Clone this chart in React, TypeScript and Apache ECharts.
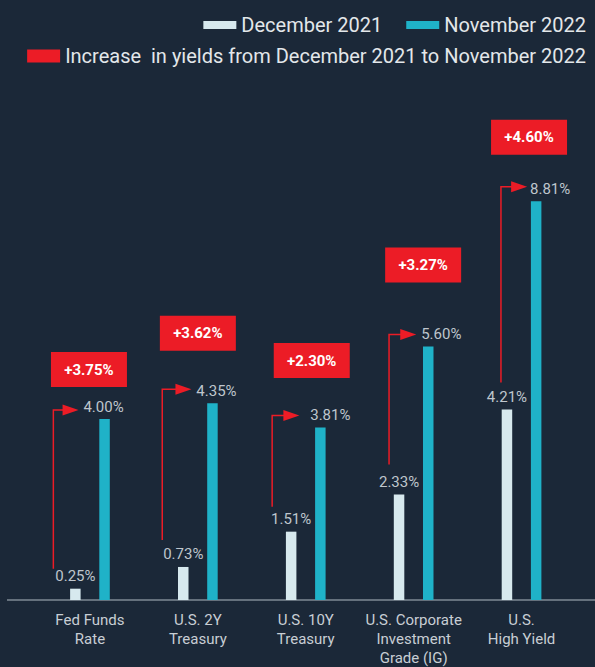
import React, { useEffect, useRef } from 'react';
import * as echarts from 'echarts';

const categories = [
  'Fed Funds\nRate',
  'U.S. 2Y\nTreasury',
  'U.S. 10Y\nTreasury',
  'U.S. Corporate\nInvestment\nGrade (IG)',
  'U.S.\nHigh Yield',
];
const dec2021 = [0.25, 0.73, 1.51, 2.33, 4.21];
const nov2022 = [4.0, 4.35, 3.81, 5.6, 8.81];
const increases = ['+3.75%', '+3.62%', '+2.30%', '+3.27%', '+4.60%'];

const SERIES_DEC = 'December 2021';
const SERIES_NOV = 'November 2022';
const SERIES_INC = 'Increase  in yields from December 2021 to November 2022';

// layout (pixel offsets)
const HALF = 14.6;
const arrowXFromDec = [-22, -21, -19, -10, -6];
const arrowStartAboveDec = [20, 27, 25, 30, 27];
const arrowEndAboveNov = [9, 14, 12, 12, 14.5];
const tipFromNov = [-26, -21, -21, -12, -9];
const novLabelDx = [-1, 4, 10, 13, 14];
const boxDx = [-1, 0, 6, 9.5, 7.5];
const boxAboveNov = [49.5, 70, 67, 81.6, 64];

const BG = '#1b2838';
const RED = '#ec1c26';
const TEAL = '#1fb2c8';
const LIGHT = '#d7e9ee';
const FONT = 'Roboto';

export default function App() {
  const ref = useRef<HTMLDivElement>(null);
  useEffect(() => {
    if (!ref.current) return;
    const chart = echarts.init(ref.current, null, { renderer: 'svg' });
    const valueLabel = {
      show: true,
      position: 'top',
      distance: 5,
      color: '#bfc6cd',
      fontSize: 15,
      fontFamily: FONT,
      formatter: (p: any) => Number(p.value).toFixed(2) + '%',
    };
    chart.setOption({
      animation: false,
      backgroundColor: BG,
      textStyle: { fontFamily: FONT },
      grid: { left: 36, right: 19.5, top: 57, bottom: 67, outerBoundsMode: 'none', containLabel: false },
      legend: [
        {
          data: [SERIES_DEC, SERIES_NOV],
          right: 4,
          top: 10,
          itemWidth: 33,
          itemHeight: 8,
          itemGap: 24,
          icon: 'rect',
          textStyle: { color: '#e3e7ea', fontSize: 20, fontFamily: FONT },
          selectedMode: false,
        },
        {
          data: [SERIES_INC],
          right: 4,
          top: 41,
          itemWidth: 33,
          itemHeight: 13,
          icon: 'rect',
          textStyle: { color: '#e3e7ea', fontSize: 20, fontFamily: FONT },
          selectedMode: false,
        },
      ],
      xAxis: {
        type: 'category',
        data: categories,
        axisLine: { show: false },
        axisTick: { show: false },
        axisLabel: {
          color: '#c8ced4',
          fontSize: 15,
          lineHeight: 19,
          margin: 10,
          fontFamily: FONT,
          interval: 0,
        },
      },
      yAxis: {
        type: 'value',
        min: 0,
        max: 12,
        show: false,
        splitLine: { show: false },
      },
      graphic: [
        {
          type: 'line',
          shape: { x1: 7, y1: 600, x2: 595, y2: 600 },
          style: { stroke: '#7f8a94', lineWidth: 1.5 },
          z: 1,
        },
      ],
      series: [
        {
          name: SERIES_DEC,
          type: 'bar',
          data: dec2021,
          barWidth: 10.5,
          barGap: '178%',
          itemStyle: { color: LIGHT },
          label: valueLabel,
        },
        {
          name: SERIES_NOV,
          type: 'bar',
          data: nov2022.map((v, i) => ({ value: v, label: { offset: [novLabelDx[i], 0] } })),
          barWidth: 10.5,
          itemStyle: { color: TEAL },
          label: valueLabel,
        },
        {
          name: SERIES_INC,
          type: 'custom',
          itemStyle: { color: RED },
          clip: false,
          z: 5,
          encode: { x: 0, y: [1, 2] },
          data: categories.map((_, i) => [i, dec2021[i], nov2022[i]]),
          renderItem: (params: any, api: any) => {
            const i = params.dataIndex;
            const cat = api.value(0);
            const pd = api.coord([cat, api.value(1)]);
            const pn = api.coord([cat, api.value(2)]);
            const cx = pd[0];
            const decX = cx - HALF;
            const novX = cx + HALF;
            const vx = decX + arrowXFromDec[i];
            const sy = pd[1] - arrowStartAboveDec[i];
            const ey = pn[1] - arrowEndAboveNov[i];
            const tipX = novX + tipFromNov[i];
            const headL = 16;
            const headH = 5.5;
            const bx = cx + boxDx[i];
            const by = pn[1] - boxAboveNov[i];
            return {
              type: 'group',
              children: [
                {
                  type: 'polyline',
                  shape: { points: [[vx, sy], [vx, ey], [tipX - headL + 1, ey]] },
                  style: { stroke: RED, lineWidth: 1.5, fill: null },
                },
                {
                  type: 'polygon',
                  shape: { points: [[tipX - headL, ey - headH], [tipX, ey], [tipX - headL, ey + headH]] },
                  style: { fill: RED },
                },
                {
                  type: 'rect',
                  shape: { x: bx - 38, y: by - 17.5, width: 76, height: 35 },
                  style: { fill: RED },
                },
                {
                  type: 'text',
                  x: bx,
                  y: by,
                  style: {
                    text: increases[i],
                    fill: '#ffffff',
                    font: `bold 15px ${FONT}`,
                    align: 'center',
                    verticalAlign: 'middle',
                  },
                },
              ],
            };
          },
        },
      ],
    });
    return () => chart.dispose();
  }, []);
  return (
    <div
      ref={ref}
      style={{ position: 'fixed', left: 0, top: 0, width: 595, height: 667 }}
    />
  );
}
